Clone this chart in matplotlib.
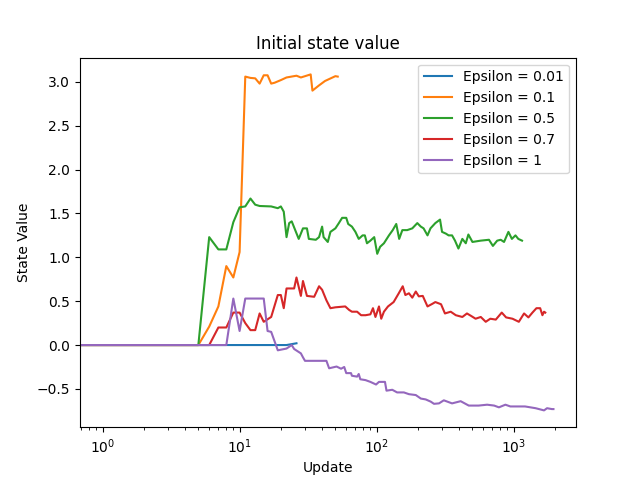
import numpy as np
import matplotlib
matplotlib.use("Agg")
import matplotlib.pyplot as plt

# values, x = update number
labels = ["Epsilon = 0.01", "Epsilon = 0.1", "Epsilon = 0.5", "Epsilon = 0.7", "Epsilon = 1"]

x_001 = [0, 1, 22, 26]
y_001 = [0, 0, 0, 0.02]

x_01 = [0, 1, 5, 6, 7, 8, 9, 10, 11, 12, 13, 14, 15, 16, 17, 18, 20, 22, 26, 28, 33, 34, 38, 42, 50, 52]
y_01 = [0, 0, 0, 0.21, 0.44, 0.90, 0.77, 1.06, 3.06, 3.045, 3.04, 2.98, 3.075, 3.075, 2.98, 2.99, 3.02,
        3.05, 3.07, 3.05, 3.085, 2.90, 2.96, 3.01, 3.065, 3.06]

x_05 = [0, 1, 5, 6, 7, 8, 9, 10, 11, 12, 13, 14, 17, 19, 20, 21, 22, 23, 24, 27, 29, 31, 32, 36, 38,
        40, 41, 44, 46, 50, 53, 56, 60, 62, 66, 70, 74, 79, 82, 85, 90, 96, 101, 106, 113, 123, 131,
        139, 146, 154, 167, 182, 198, 210, 220, 235, 247, 268, 290, 300, 320, 335, 355, 373, 395,
        422, 447, 467, 500, 574, 660, 705, 758, 804, 850, 915, 970, 1030, 1080, 1150]
y_05 = [0, 0, 0, 1.23, 1.09, 1.09, 1.40, 1.57, 1.58, 1.67, 1.60, 1.585, 1.58, 1.56, 1.58, 1.52, 1.23,
        1.39, 1.41, 1.21, 1.33, 1.33, 1.21, 1.20, 1.23, 1.35, 1.23, 1.175, 1.29, 1.33, 1.39, 1.45,
        1.45, 1.38, 1.35, 1.29, 1.21, 1.25, 1.25, 1.16, 1.19, 1.23, 1.04, 1.12, 1.16, 1.25, 1.31,
        1.38, 1.21, 1.31, 1.31, 1.33, 1.39, 1.35, 1.33, 1.25, 1.33, 1.39, 1.43, 1.29, 1.27, 1.25,
        1.25, 1.19, 1.10, 1.21, 1.16, 1.26, 1.175, 1.19, 1.20, 1.13, 1.19, 1.20, 1.175, 1.29, 1.21,
        1.25, 1.21, 1.19]

x_07 = [0, 1, 6, 7, 8, 9, 10, 11, 12, 13, 14, 15, 17, 19, 20, 21, 22, 25, 26, 28, 29, 31, 35, 38, 40,
        43, 46, 50, 59, 63, 66, 72, 77, 83, 90, 94, 98, 104, 108, 113, 121, 133, 145, 155, 162, 172,
        182, 193, 203, 217, 235, 255, 268, 295, 315, 347, 378, 422, 456, 491, 527, 575, 625, 675,
        740, 818, 880, 980, 1090, 1190, 1280, 1370, 1465, 1560, 1620, 1665, 1700]
y_07 = [0, 0, 0, 0.20, 0.20, 0.37, 0.37, 0.25, 0.17, 0.17, 0.36, 0.265, 0.32, 0.57, 0.57, 0.42, 0.645,
        0.645, 0.77, 0.56, 0.73, 0.56, 0.55, 0.67, 0.63, 0.51, 0.42, 0.43, 0.44, 0.40, 0.38, 0.38,
        0.34, 0.34, 0.35, 0.42, 0.32, 0.44, 0.30, 0.38, 0.44, 0.49, 0.59, 0.67, 0.57, 0.59, 0.54,
        0.61, 0.555, 0.56, 0.44, 0.47, 0.49, 0.465, 0.36, 0.38, 0.34, 0.32, 0.36, 0.33, 0.30, 0.32,
        0.265, 0.30, 0.29, 0.37, 0.315, 0.30, 0.265, 0.36, 0.315, 0.37, 0.42, 0.42, 0.34, 0.38, 0.37]

x_1 = [0, 1, 8, 9, 10, 11, 15, 16, 17, 19, 22, 24, 25, 28, 29, 30, 43, 45, 51, 55, 58, 60, 65, 66, 72,
       74, 76, 83, 90, 99, 104, 115, 118, 130, 141, 158, 172, 193, 210, 228, 248, 262, 285, 309,
       355, 410, 470, 555, 640, 720, 780, 870, 945, 1210, 1445, 1665, 1750, 1900, 1950]
y_1 = [0, 0, 0, 0.53, 0.16, 0.53, 0.53, 0.16, 0.15, -0.06, -0.04, 0.0, -0.045, -0.095, -0.14, -0.18,
       -0.18, -0.265, -0.245, -0.27, -0.25, -0.32, -0.32, -0.35, -0.36, -0.33, -0.39, -0.40, -0.42,
       -0.45, -0.42, -0.42, -0.52, -0.51, -0.54, -0.54, -0.56, -0.57, -0.61, -0.62, -0.645, -0.67,
       -0.665, -0.63, -0.665, -0.64, -0.69, -0.69, -0.68, -0.69, -0.71, -0.68, -0.70, -0.70, -0.72,
       -0.745, -0.72, -0.73, -0.73]

series = [(x_001, y_001), (x_01, y_01), (x_05, y_05), (x_07, y_07), (x_1, y_1)]

fig, ax = plt.subplots(figsize=(6.4, 4.8), dpi=100)

for (xs, ys), lab in zip(series, labels):
    ax.plot(xs, ys, label=lab)

ax.set_xscale("log")
ax.set_title("Initial state value")
ax.set_xlabel("Update")
ax.set_ylabel("State Value")
ax.legend(loc="upper right")

fig.savefig("out.png")
